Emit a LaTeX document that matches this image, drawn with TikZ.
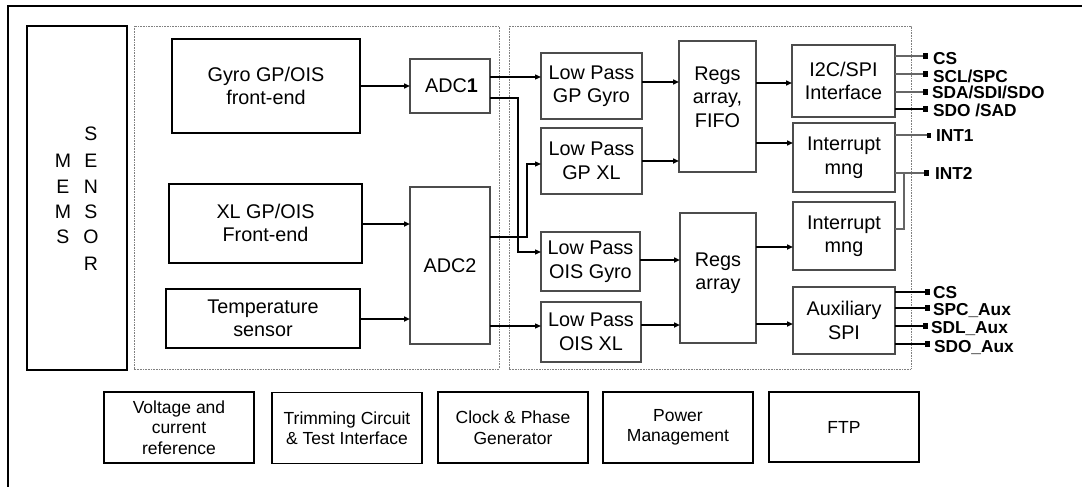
\documentclass[tikz,border=0pt]{standalone}
\usepackage{fontspec}
\setmainfont{Liberation Sans}
\usetikzlibrary{arrows.meta,calc}
\begin{document}
\begin{tikzpicture}[x=1pt,y=-1pt,
  every node/.style={inner sep=0pt,outer sep=0pt},
  mainfont/.style={font=\fontsize{19.8}{23.5}\selectfont,align=center},
  botfont/.style={font=\fontsize{17.5}{20.5}\selectfont,align=center},
  tbox/.style={draw=black,line width=2pt,mainfont},
  bbox/.style={draw=black,line width=1.8pt,botfont,minimum width=150pt,minimum height=71pt},
  gbox/.style={draw=black!70,line width=1.3pt,mainfont},
  dotbox/.style={draw=black!50,line width=0.9pt,dash pattern=on 0.8pt off 0.8pt},
  arr/.style={line width=1.9pt,-{Triangle[length=6pt,width=5pt]}},
  sig/.style={line width=1.3pt,-{Triangle[length=6pt,width=5pt]}},
  pinline/.style={line width=1.3pt,draw=black!60},
  pinlineb/.style={line width=1.3pt,draw=black},
  pinsq/.style={fill=black,minimum width=5pt,minimum height=6pt},
  pinlab/.style={font=\fontsize{17.3}{18}\selectfont\bfseries,anchor=base west},
  memsl/.style={font=\fontsize{19.5}{20}\selectfont,anchor=base}
]
\useasboundingbox (0,0) rectangle (1082,487);
\clip (0,0) rectangle (1082,487);

% outer frame
\draw[line width=2pt] (8,495) -- (8,6) -- (1090,6);

% containers
\draw[dotbox] (134,26) rectangle (499,369);
\draw[dotbox] (509,26) rectangle (911,369);

% MEMS sensor
\node[draw=black,line width=2pt,minimum width=100pt,minimum height=344pt] (mems) at (77,198) {};
\node[memsl] (s1) at (91,140) {S};
\node[memsl] (s2) at (91,167) {E};
\node[memsl] (s3) at (91,193) {N};
\node[memsl] (s4) at (91,218) {S};
\node[memsl] (s5) at (91,243) {O};
\node[memsl] (s6) at (91,270) {R};
\node[memsl] (m1) at (63,167) {M};
\node[memsl] (m2) at (63,193) {E};
\node[memsl] (m3) at (63,218) {M};
\node[memsl] (m4) at (63,243) {S};

% front ends
\node[tbox,minimum width=188pt,minimum height=94pt] (gyro) at (266,86) {Gyro GP/OIS\\front-end};
\node[tbox,minimum width=193pt,minimum height=79pt] (xl) at (265.5,223) {XL GP/OIS\\Front-end};
\node[tbox,minimum width=194pt,minimum height=59pt] (temp) at (263,318.5) {Temperature\\sensor};

% ADCs
\node[gbox,minimum width=80pt,minimum height=54pt] (adc1) at (450,86) {\hspace{3pt}ADC\textbf{1}};
\node[gbox,minimum width=80pt,minimum height=157pt] (adc2) at (450,265.5) {ADC2};

% low pass filters
\node[gbox,minimum width=101pt,minimum height=66pt] (lpgg) at (591.5,86) {Low Pass\\GP Gyro};
\node[gbox,minimum width=101pt,minimum height=66pt] (lpgx) at (591.5,161) {Low Pass\\GP XL};
\node[gbox,minimum width=99pt,minimum height=59pt] (lpog) at (590.5,261.5) {Low Pass\\OIS Gyro};
\node[gbox,minimum width=100pt,minimum height=60pt] (lpox) at (591,332) {Low Pass\\OIS XL};

% registers
\node[gbox,minimum width=77pt,minimum height=131pt] (regs1) at (717.5,106.5) {};
\node[mainfont] (regs1t) at (717.5,97) {Regs\\array,\\FIFO};
\node[gbox,minimum width=76pt,minimum height=130pt] (regs2) at (718,278) {};
\node[mainfont] (regs2t) at (718,273) {Regs\\array};

% interfaces
\node[gbox,minimum width=103pt,minimum height=72pt] (i2c) at (843.5,81) {I2C/SPI\\Interface};
\node[gbox,minimum width=102pt,minimum height=69pt] (int1) at (844,157.5) {Interrupt\\mng};
\node[gbox,minimum width=102pt,minimum height=68pt] (int2) at (844,236) {Interrupt\\mng};
\node[gbox,minimum width=102pt,minimum height=67pt] (aux) at (844,320.5) {Auxiliary\\SPI};

% bottom blocks
\node[bbox] (volt) at (179,427.5) {Voltage and\\current\\reference};
\node[bbox] (trim) at (347,428) {Trimming Circuit\\\& Test Interface};
\node[bbox] (clk) at (513,427.5) {Clock \& Phase\\Generator};
\node[bbox] (pwr) at (678,427.5) {Power\\Management};
\node[bbox,line width=2.2pt,minimum height=70pt] (ftp) at (844,427) {FTP};

% front-end arrows
\draw[arr] (gyro.east) -- (gyro.east -| adc1.west);
\draw[arr] (xl.east |- 0,224) -- (adc2.west |- 0,224);
\draw[arr] (temp.east |- 0,319) -- (adc2.west |- 0,319);

% ADC outputs
\draw[sig] (adc1.east |- 0,77) -- (lpgg.west |- 0,77);
\draw[sig] (adc1.east |- 0,98) -- ++(28,0) |- (lpog.west |- 0,252);
\draw[sig] (adc2.east |- 0,237) -- ++(37,0) |- (lpgx.west |- 0,164);
\draw[sig] (adc2.east |- 0,326) -- (lpox.west |- 0,326);

% filters to registers
\draw[arr] (lpgg.east |- 0,82) -- (regs1.west |- 0,82);
\draw[arr] (lpgx.east |- 0,161) -- (regs1.west |- 0,161);
\draw[arr] (lpog.east |- 0,260) -- (regs2.west |- 0,260);
\draw[arr] (lpox.east |- 0,325) -- (regs2.west |- 0,325);

% registers to interfaces
\draw[arr] (regs1.east |- 0,83) -- (i2c.west |- 0,83);
\draw[arr] (regs1.east |- 0,143) -- (int1.west |- 0,143);
\draw[arr] (regs2.east |- 0,247) -- (int2.west |- 0,247);
\draw[arr] (regs2.east |- 0,324) -- (aux.west |- 0,324);

% pins I2C
\node[pinsq] (pcs) at (925.5,56) {};
\node[pinsq] (pscl) at (925.5,74) {};
\node[pinsq] (psda) at (925.5,92) {};
\node[pinsq] (psdo) at (925.5,109) {};
\draw[pinline] (i2c.east |- pcs) -- (pcs.west);
\draw[pinline] (i2c.east |- pscl) -- (pscl.west);
\draw[pinline] (i2c.east |- psda) -- (psda.west);
\draw[pinlineb] (i2c.east |- psdo) -- (psdo.west);
\node[pinlab] (lcs) at (933,64.5) {CS};
\node[pinlab] (lscl) at (933,83) {SCL/SPC};
\node[pinlab] (lsda) at (932,99) {SDA/SDI/SDO};
\node[pinlab] (lsdo) at (933,116) {SDO /SAD};

% interrupt pins
\node[pinsq,minimum width=4pt,minimum height=5pt] (pint1) at (929,135) {};
\node[pinsq] (pint2) at (926,173) {};
\draw[pinline] (int1.east |- pint1) -- (pint1.west);
\draw[pinline] (int1.east |- pint2) -- (pint2.west);
\draw[pinline] (int2.east |- 0,229) -- ++(9,0) -- ++(0,-56);
\node[pinlab] (lint1) at (936,141) {INT1};
\node[pinlab] (lint2) at (935,179) {INT2};

% aux pins
\node[pinsq] (acs) at (927,292) {};
\node[pinsq] (aspc) at (927,308) {};
\node[pinsq] (asdl) at (925.5,326) {};
\node[pinsq] (asdo) at (927,344) {};
\draw[pinlineb] (aux.east |- acs) -- (acs.west);
\draw[pinlineb] (aux.east |- aspc) -- (aspc.west);
\draw[pinlineb] (aux.east |- asdl) -- (asdl.west);
\draw[pinlineb] (aux.east |- asdo) -- (asdo.west);
\node[pinlab] (lacs) at (933,298.5) {CS};
\node[pinlab] (laspc) at (933,315) {SPC\_Aux};
\node[pinlab] (lasdl) at (931,333) {SDL\_Aux};
\node[pinlab] (lasdo) at (934,352) {SDO\_Aux};
\end{tikzpicture}
\end{document}
